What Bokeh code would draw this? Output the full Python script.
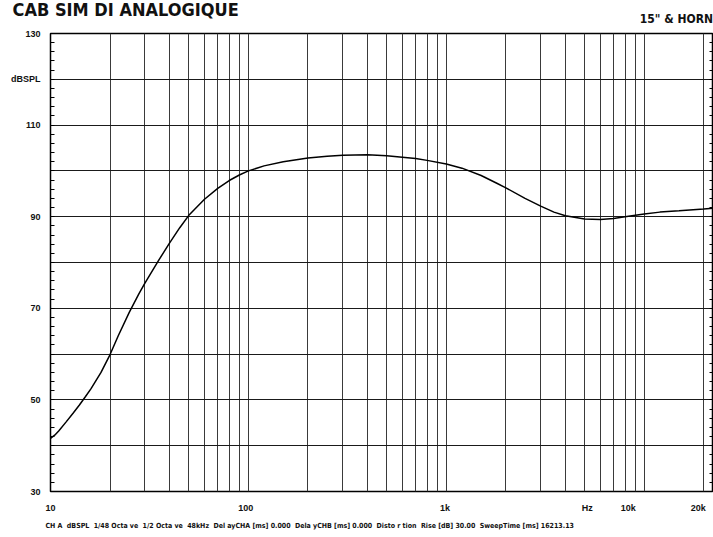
from bokeh.plotting import figure
from bokeh.models import FixedTicker, LinearAxis, Range1d, Title
from bokeh.embed import file_html
from bokeh.resources import INLINE

freq_hz = [10, 10.5, 11, 12, 13, 14, 15, 16, 18, 20, 22, 25, 28, 30, 35, 40, 45, 50,
           60, 70, 80, 90, 100, 120, 150, 200, 250, 300, 400, 500, 600, 700, 800,
           1000, 1200, 1500, 1800, 2000, 2500, 3000, 3500, 4000, 5000, 6000, 7000,
           8000, 10000, 12000, 15000, 20000, 23000]
spl_db = [41.6, 42.3, 43.2, 45.2, 47.1, 48.9, 50.7, 52.4, 56.0, 59.9, 64.0, 69.1, 73.2,
          75.5, 80.3, 84.3, 87.6, 90.3, 93.8, 96.2, 97.9, 99.1, 100.0, 101.1, 102.0,
          102.8, 103.2, 103.4, 103.5, 103.3, 103.0, 102.7, 102.3, 101.5, 100.6, 99.0,
          97.3, 96.3, 94.0, 92.3, 91.0, 90.2, 89.5, 89.4, 89.6, 90.0, 90.6, 91.0,
          91.3, 91.7, 91.9]

x_tick_pos = [10, 97, 985, 5150, 8300, 18750]
x_tick_labels = ["10", "100", "1k", "Hz", "10k", "20k"]
y_tick_pos = [30, 50, 70, 90, 110, 120, 130]
y_tick_labels = ["30", "50", "70", "90", "110", "dBSPL", "130"]
grid_x = [10, 20, 30, 40, 50, 60, 70, 80, 90, 100, 200, 300, 400, 500, 600, 700, 800, 900,
          1000, 2000, 3000, 4000, 5000, 6000, 7000, 8000, 9000, 10000, 20000]
grid_y = [30, 40, 50, 60, 70, 80, 90, 100, 110, 120, 130]
minor_y = list(range(30, 131, 2))

title_text = "CAB SIM DI ANALOGIQUE"
subtitle_pos = [14550]
subtitle_text = ["15\" & HORN"]
SP = "\u00a0\u00a0"
footer_parts = ["CH A", "dBSPL", "1/48 Octa ve", "1/2 Octa ve", "48kHz", "Del ayCHA [ms] 0.000",
                "Dela yCHB [ms] 0.000", "Disto r tion\u00a0 Rise [dB] 30.00", "SweepTime [ms] 16213.13"]
footer_text = SP.join(footer_parts)

AXFONT = "Liberation Sans"
COND = "DejaVu Sans Condensed"

p = figure(width=713, height=537, x_axis_type="log", output_backend="svg",
           toolbar_location=None, x_axis_location=None, y_axis_location=None,
           x_range=Range1d(10, 22400), y_range=Range1d(30, 130),
           min_border_left=50, min_border_right=0, min_border_top=33, min_border_bottom=46)
p.background_fill_color = "white"
p.border_fill_color = "white"
p.outline_line_color = "black"
p.outline_line_width = 1.5

xaxis = LinearAxis(ticker=FixedTicker(ticks=x_tick_pos, minor_ticks=[]))
xaxis.major_label_overrides = dict(zip(x_tick_pos, x_tick_labels))
xaxis.axis_line_color = None
xaxis.major_tick_line_color = None
xaxis.minor_tick_line_color = None
xaxis.major_label_standoff = 5
xaxis.major_label_text_font = AXFONT
xaxis.major_label_text_font_style = "bold"
xaxis.major_label_text_font_size = "9px"
xaxis.major_label_text_color = "#111111"
p.add_layout(xaxis, "below")

yaxis = LinearAxis(ticker=FixedTicker(ticks=y_tick_pos, minor_ticks=minor_y))
yaxis.major_label_overrides = dict(zip(y_tick_pos, y_tick_labels))
yaxis.axis_line_color = None
yaxis.major_tick_line_color = None
yaxis.major_tick_in = 0
yaxis.major_tick_out = 0
yaxis.minor_tick_in = 4
yaxis.minor_tick_out = 0
yaxis.minor_tick_line_color = "black"
yaxis.major_label_standoff = 10
yaxis.major_label_text_font = AXFONT
yaxis.major_label_text_font_style = "bold"
yaxis.major_label_text_font_size = "9px"
yaxis.major_label_text_color = "#111111"
p.add_layout(yaxis, "left")

raxis = LinearAxis(ticker=FixedTicker(ticks=[], minor_ticks=minor_y))
raxis.axis_line_color = None
raxis.major_tick_line_color = None
raxis.major_tick_in = 0
raxis.major_tick_out = 0
raxis.minor_tick_in = 4
raxis.minor_tick_out = 0
raxis.minor_tick_line_color = "black"
raxis.major_label_standoff = 0
raxis.major_label_text_font_size = "0px"
p.add_layout(raxis, "right")

# top axis used only to carry the subtitle text at the top right
taxis = LinearAxis(ticker=FixedTicker(ticks=subtitle_pos, minor_ticks=[]))
taxis.major_label_overrides = dict(zip(subtitle_pos, subtitle_text))
taxis.axis_line_color = None
taxis.major_tick_line_color = None
taxis.minor_tick_line_color = None
taxis.major_tick_in = 0
taxis.major_tick_out = 0
taxis.major_label_standoff = 8
taxis.major_label_text_font = COND
taxis.major_label_text_font_style = "bold"
taxis.major_label_text_font_size = "12px"
taxis.major_label_text_color = "#111111"
p.add_layout(taxis, "above")

main_title = Title(text=title_text, align="left", offset=-38, standoff=-22,
                   text_font=COND, text_font_style="bold", text_font_size="18px",
                   text_color="#111111")
p.add_layout(main_title, "above")

p.xgrid.ticker = FixedTicker(ticks=grid_x)
p.ygrid.ticker = FixedTicker(ticks=grid_y)
p.xgrid.grid_line_color = "#3a3a3a"
p.ygrid.grid_line_color = "#1a1a1a"
p.xgrid.grid_line_width = 1
p.ygrid.grid_line_width = 1

p.line(freq_hz, spl_db, line_color="black", line_width=1.5)

footer = Title(text=footer_text, align="left", offset=-5, standoff=8,
               text_font=COND, text_font_style="bold", text_font_size="7px",
               text_color="#111111")
p.add_layout(footer, "below")

open("out.html", "w").write(file_html(p, INLINE))
